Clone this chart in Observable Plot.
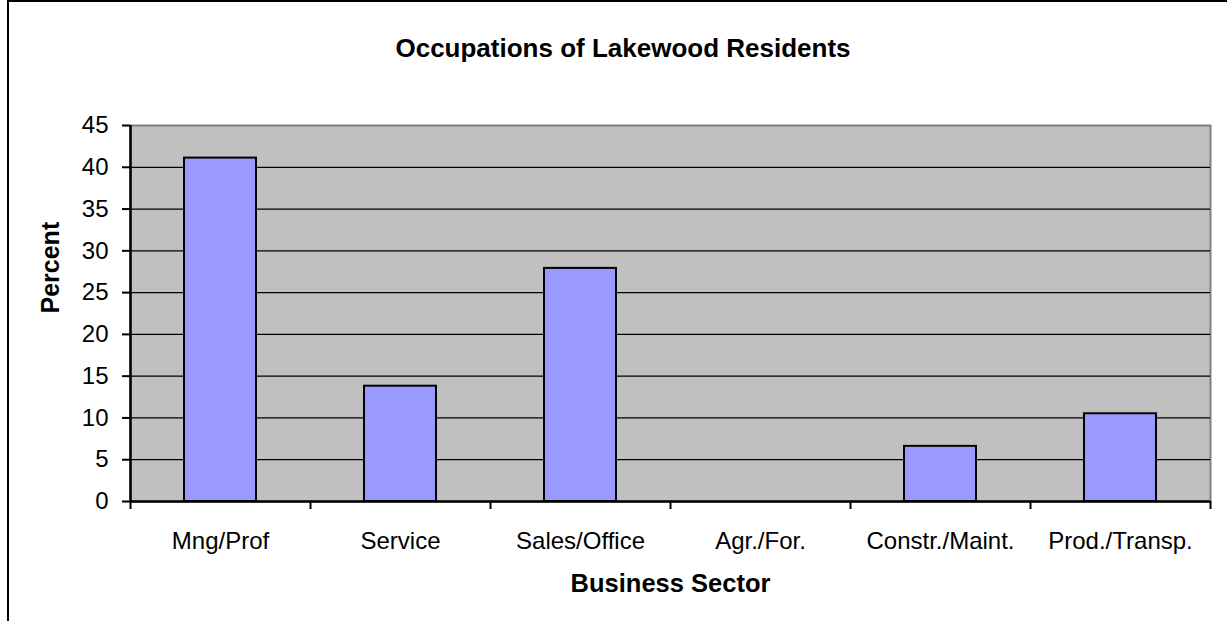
<!DOCTYPE html>
<html><head><meta charset="utf-8">
<script src="https://cdn.jsdelivr.net/npm/d3@7"></script>
<script src="https://cdn.jsdelivr.net/npm/@observablehq/plot@0.6"></script>
<style>
html,body{margin:0;padding:0;background:#fff;overflow:hidden;}
#wrap{position:relative;width:1227px;height:621px;font-family:"Liberation Sans",Arial,sans-serif;}
#frame{position:absolute;left:7px;top:0;width:1300px;height:700px;border-left:2px solid #000;border-top:2px solid #000;}
#title{position:absolute;left:9px;width:1228px;top:33px;line-height:30px;text-align:center;font-weight:bold;font-size:26px;color:#000;}
#chart{position:absolute;left:0;top:95px;}
</style></head><body>
<div id="wrap"><div id="frame"></div><div id="title">Occupations of Lakewood Residents</div><div id="chart"></div></div>
<script>
const sectors = ["Mng/Prof", "Service", "Sales/Office", "Agr./For.", "Constr./Maint.", "Prod./Transp."];
const percents = [41.1, 13.8, 27.9, 0, 6.6, 10.5];
const yTicks = [0, 5, 10, 15, 20, 25, 30, 35, 40, 45];

const data = sectors.map((s, i) => ({sector: s, percent: percents[i]}));
const W = 1227, H = 526, mL = 130, mR = 17;
const step = (W - mL - mR) / sectors.length;
const chart = Plot.plot({
  width: W, height: H, marginTop: 30, marginBottom: 120, marginLeft: mL, marginRight: mR,
  style: {fontFamily: '"Liberation Sans", Arial, sans-serif', fontSize: "24px", color: "#000", background: "transparent", overflow: "visible"},
  x: {domain: sectors, paddingInner: 0.6, paddingOuter: 0.3},
  y: {domain: [0, 45]},
  marks: [
    Plot.frame({fill: "#c0c0c0", stroke: "#808080", strokeWidth: 2}),
    Plot.gridY({ticks: yTicks.filter(t => t > 0 && t < 45), stroke: "#000", strokeOpacity: 1, strokeWidth: 1.2}),
    Plot.barY(data, {x: "sector", y: "percent", fill: "#9999ff", stroke: "#000", strokeWidth: 2}),
    Plot.ruleY([0], {stroke: "#000", strokeWidth: 2.5}),
    Plot.ruleX([sectors[0]], {dx: -step / 2, stroke: "#000", strokeWidth: 2.5}),
    Plot.axisY({ticks: yTicks, tickSize: 8, tickPadding: 14, strokeWidth: 2, label: null, fontSize: 24}),
    Plot.axisX({tickSize: 0, tickPadding: 30, label: null, fontSize: 24}),
    Plot.axisX({tickSize: 8, tickFormat: () => "", dx: -step / 2, strokeWidth: 2, label: null}),
    Plot.axisX({ticks: [sectors[sectors.length - 1]], tickSize: 8, tickFormat: () => "", dx: step / 2, strokeWidth: 2, label: null}),
    Plot.text(["Percent"], {text: d => d, frameAnchor: "left", dx: -80, rotate: -90, fontWeight: "bold", fontSize: 25}),
    Plot.text(["Business Sector"], {text: d => d, frameAnchor: "bottom", dy: 90, fontWeight: "bold", fontSize: 25.5})
  ]
});
document.getElementById("chart").append(chart);
</script></body></html>
